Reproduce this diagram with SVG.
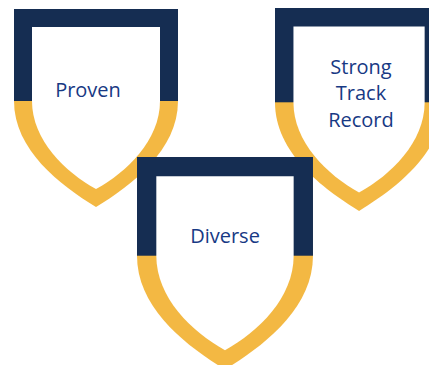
<svg xmlns="http://www.w3.org/2000/svg" xmlns:xlink="http://www.w3.org/1999/xlink" width="429" height="365" viewBox="0 0 429 365">
  <style>
    .band-low { fill: #F3B843; }
    .band-top { fill: #152D52; }
    .face { fill: #FFFFFF; }
    .label { font-family: "Open Sans", "Liberation Sans", sans-serif; font-size: 20px; fill: #173984; text-anchor: middle; }
  </style>
  <defs>
    <!-- Shield badge: navy upper frame, gold lower rim, white face. Base size 164 x 198. -->
    <g id="shield">
      <path class="band-low" d="M0,0 H164 V92 C164,141 118,176 82,198 C46,176 0,141 0,92 Z"/>
      <rect class="band-top" x="0" y="0" width="164" height="92"/>
      <path class="face" d="M18,18 H146 V92 C146,131 113,163 82,180 C51,163 18,131 18,92 Z"/>
    </g>
  </defs>

  <g id="node-proven">
    <use xlink:href="#shield" href="#shield" transform="translate(14,9)"/>
    <text class="label" x="88" y="97">Proven</text>
  </g>

  <g id="node-track-record">
    <use xlink:href="#shield" href="#shield" transform="translate(275,8) scale(1.025)"/>
    <text class="label" x="361" y="74">Strong</text>
    <text class="label" x="361" y="100">Track</text>
    <text class="label" x="361" y="127">Record</text>
  </g>

  <g id="node-diverse">
    <use xlink:href="#shield" href="#shield" transform="translate(137,157) scale(1.073)"/>
    <text class="label" x="225" y="243">Diverse</text>
  </g>

  <g id="connectors"/>
</svg>
